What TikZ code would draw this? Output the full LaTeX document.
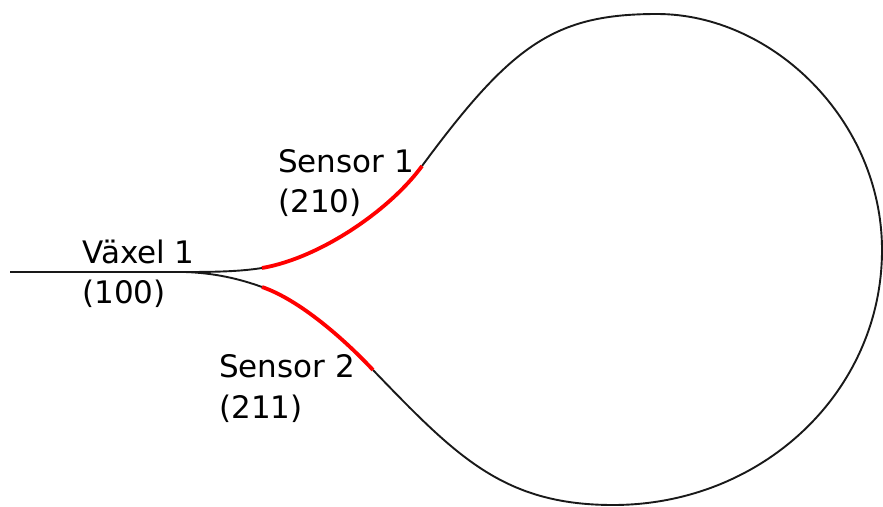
\documentclass[tikz,border=0pt]{standalone}
\usepackage{fontspec}
\setmainfont{DejaVu Sans}
\begin{document}
\begin{tikzpicture}[x=1pt,y=-1pt,
  track/.style={draw=black!90,line width=1.9pt},
  sensor/.style={draw=red,line width=3.8pt},
  lbl/.style={anchor=base west,inner sep=0pt,font=\fontsize{31}{40}\selectfont}]
\useasboundingbox (0,0) rectangle (883,506);
\coordinate (start) at (10,272);
\coordinate (vx) at (185,272);
\coordinate (s1a) at (262,268);
\coordinate (s1b) at (422,166);
\coordinate (top) at (657,14);
\coordinate (right) at (882,250);
\coordinate (bot) at (613,505);
\coordinate (s2b) at (373,370);
\coordinate (s2a) at (262,287);
% track
\draw[track] (start) -- (vx);
\draw[track] (vx) .. controls (215,272) and (240,271.5) .. (s1a);
\draw[track] (s1b) .. controls (512,44) and (555,14) .. (top)
  .. controls (772,14) and (882,120) .. (right)
  .. controls (882,392) and (762,505) .. (bot)
  .. controls (503,505) and (456,456) .. (s2b);
\draw[track] (vx) .. controls (215,273) and (240,279) .. (s2a);
% sensors
\draw[sensor] (s1a) .. controls (320,258) and (390,210) .. (s1b);
\draw[sensor] (s2a) .. controls (300,300) and (345,340) .. (s2b);
% labels
\node[lbl] (v1) at (82,263) {Växel 1};
\node[lbl] (v1n) at (82,303) {(100)};
\node[lbl] (t1) at (278,172) {Sensor 1};
\node[lbl] (t1n) at (278,212) {(210)};
\node[lbl] (t2) at (219,377) {Sensor 2};
\node[lbl] (t2n) at (219,418) {(211)};
\end{tikzpicture}
\end{document}
